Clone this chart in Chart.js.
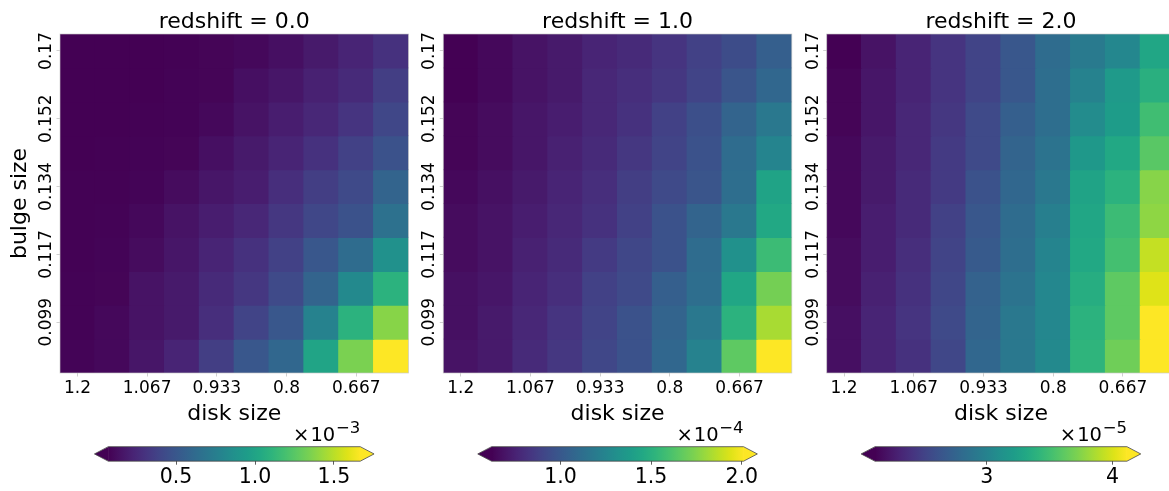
<!DOCTYPE html>
<html>
<head>
<meta charset="utf-8">
<script src="https://cdn.jsdelivr.net/npm/chart.js@4.4.0/dist/chart.umd.min.js"></script>
<style>
  html, body { margin: 0; padding: 0; background: #fff; width: 1169px; height: 491px; overflow: hidden; position: relative; }
  canvas { position: absolute; }
</style>
</head>
<body>
<canvas id="map0"></canvas>
<canvas id="map1"></canvas>
<canvas id="map2"></canvas>
<canvas id="bar0"></canvas>
<canvas id="bar1"></canvas>
<canvas id="bar2"></canvas>
<script>
// ---- data -------------------------------------------------------------
// disk sizes along x (columns), bulge sizes along y (rows, top to bottom)
const diskSizes = ['1.2', '1.133', '1.067', '1.0', '0.933', '0.867', '0.8', '0.733', '0.667', '0.6'];
const bulgeSizes = ['0.17', '0.161', '0.152', '0.143', '0.134', '0.126', '0.117', '0.108', '0.099', '0.09'];
const redshifts = ['0.0', '1.0', '2.0'];

// redshift 0.0, in units of 1e-3 (rows = bulge size, top to bottom)
const ratioZ0 = [
  [0.070, 0.070, 0.071, 0.075, 0.086, 0.102, 0.134, 0.182, 0.230, 0.294],
  [0.070, 0.071, 0.072, 0.078, 0.086, 0.134, 0.166, 0.214, 0.262, 0.357],
  [0.071, 0.072, 0.075, 0.080, 0.102, 0.150, 0.198, 0.246, 0.310, 0.405],
  [0.071, 0.073, 0.078, 0.086, 0.134, 0.182, 0.230, 0.294, 0.373, 0.469],
  [0.073, 0.076, 0.083, 0.118, 0.166, 0.198, 0.278, 0.357, 0.421, 0.581],
  [0.075, 0.080, 0.102, 0.150, 0.198, 0.246, 0.326, 0.405, 0.469, 0.661],
  [0.076, 0.083, 0.118, 0.166, 0.230, 0.294, 0.373, 0.501, 0.629, 0.869],
  [0.078, 0.086, 0.150, 0.182, 0.262, 0.326, 0.421, 0.581, 0.821, 1.092],
  [0.080, 0.102, 0.150, 0.182, 0.278, 0.389, 0.501, 0.773, 1.092, 1.380],
  [0.083, 0.102, 0.166, 0.230, 0.357, 0.501, 0.597, 1.000, 1.348, 1.667]
];

// redshift 1.0, in units of 1e-4
const ratioZ1 = [
  [0.620, 0.648, 0.690, 0.717, 0.759, 0.787, 0.829, 0.884, 0.940, 1.037],
  [0.620, 0.648, 0.690, 0.717, 0.773, 0.801, 0.842, 0.898, 0.981, 1.079],
  [0.634, 0.662, 0.703, 0.731, 0.773, 0.815, 0.884, 0.954, 1.065, 1.176],
  [0.634, 0.662, 0.703, 0.745, 0.787, 0.842, 0.898, 0.968, 1.107, 1.246],
  [0.648, 0.676, 0.717, 0.759, 0.801, 0.870, 0.926, 0.981, 1.120, 1.426],
  [0.662, 0.690, 0.731, 0.773, 0.815, 0.884, 0.968, 1.065, 1.176, 1.454],
  [0.662, 0.690, 0.745, 0.787, 0.856, 0.912, 0.968, 1.107, 1.315, 1.565],
  [0.676, 0.703, 0.759, 0.801, 0.884, 0.926, 1.037, 1.120, 1.440, 1.718],
  [0.676, 0.717, 0.773, 0.829, 0.898, 0.968, 1.065, 1.176, 1.510, 1.829],
  [0.690, 0.717, 0.787, 0.842, 0.912, 0.968, 1.079, 1.232, 1.663, 2.010]
];

// redshift 2.0, in units of 1e-5
const ratioZ2 = [
  [2.110, 2.210, 2.311, 2.411, 2.511, 2.651, 2.812, 2.932, 3.032, 3.293],
  [2.130, 2.230, 2.311, 2.411, 2.511, 2.651, 2.832, 2.992, 3.193, 3.373],
  [2.130, 2.230, 2.331, 2.431, 2.551, 2.712, 2.832, 3.072, 3.213, 3.493],
  [2.150, 2.250, 2.331, 2.451, 2.551, 2.752, 2.872, 3.173, 3.313, 3.594],
  [2.150, 2.250, 2.351, 2.451, 2.611, 2.772, 2.912, 3.273, 3.393, 3.754],
  [2.150, 2.270, 2.351, 2.491, 2.651, 2.812, 2.972, 3.293, 3.473, 3.774],
  [2.170, 2.270, 2.371, 2.511, 2.671, 2.832, 3.012, 3.313, 3.514, 3.935],
  [2.170, 2.290, 2.391, 2.531, 2.732, 2.872, 3.032, 3.353, 3.614, 4.015],
  [2.190, 2.311, 2.411, 2.551, 2.752, 2.912, 3.032, 3.393, 3.614, 4.115],
  [2.190, 2.311, 2.391, 2.531, 2.772, 2.912, 3.052, 3.413, 3.674, 4.115]
];

// colour limits of each panel (same units as the grids above)
const colorRangeZ0 = [0.07, 1.667];
const colorRangeZ1 = [0.62, 2.01];
const colorRangeZ2 = [2.11, 4.115];

// colourbar ticks and their labels
const cbTicksZ0 = [0.5, 1.0, 1.5];
const cbTicksZ1 = [1.0, 1.5, 2.0];
const cbTicksZ2 = [3, 4];
const cbTickLabelsZ0 = ['0.5', '1.0', '1.5'];
const cbTickLabelsZ1 = ['1.0', '1.5', '2.0'];
const cbTickLabelsZ2 = ['3', '4'];
const cbExponents = ['\u22123', '\u22124', '\u22125'];

const grids = [ratioZ0, ratioZ1, ratioZ2];
const ranges = [colorRangeZ0, colorRangeZ1, colorRangeZ2];
const cbTicks = [cbTicksZ0, cbTicksZ1, cbTicksZ2];
const cbTickLabels = [cbTickLabelsZ0, cbTickLabelsZ1, cbTickLabelsZ2];

// ---- viridis colour map ------------------------------------------------
const VIRIDIS = ['#440154', '#471365', '#482475', '#463480', '#414487', '#3b528b', '#355f8d',
  '#2f6c8e', '#2a788e', '#25848e', '#21918c', '#1e9c89', '#22a884', '#2fb47c', '#44bf70',
  '#5ec962', '#7ad151', '#9bd93c', '#bddf26', '#dfe318', '#fde725'];
function hexRgb(h) { return [1, 3, 5].map(i => parseInt(h.slice(i, i + 2), 16)); }
const VIRIDIS_RGB = VIRIDIS.map(hexRgb);
function viridis(t) {
  t = Math.min(1, Math.max(0, t));
  const f = t * (VIRIDIS_RGB.length - 1);
  const i = Math.min(Math.floor(f), VIRIDIS_RGB.length - 2);
  const u = f - i;
  const a = VIRIDIS_RGB[i], b = VIRIDIS_RGB[i + 1];
  const c = a.map((v, k) => Math.round(v + (b[k] - v) * u));
  return `rgb(${c[0]},${c[1]},${c[2]})`;
}

// ---- layout ------------------------------------------------------------
const FONT = 'DejaVu Sans';
Chart.defaults.font.family = FONT;
Chart.defaults.color = '#000';
Chart.defaults.animation = false;
Chart.defaults.events = [];

const AREA_TOP = 34, AREA_H = 339, AREA_W = 348.5;
const AREA_LEFT = [60, 443.3, 826.7];
const MAP_H = 427;
const CB_TOP = 446.7, CB_H = 14.5, CB_W = 252, CB_CANVAS_TOP = 410, CB_CANVAS_H = 81;
const CB_EXT = 13.8;

function place(canvas, left, top, w, h) {
  canvas.width = w; canvas.height = h;
  canvas.style.left = left + 'px'; canvas.style.top = top + 'px';
  canvas.style.width = w + 'px'; canvas.style.height = h + 'px';
}

const panelTitle = {
  id: 'panelTitle',
  afterDraw(chart, args, opts) {
    const { ctx, chartArea } = chart;
    ctx.save();
    ctx.font = `22px "${FONT}"`;
    ctx.fillStyle = '#000';
    ctx.textAlign = 'center';
    ctx.textBaseline = 'alphabetic';
    ctx.fillText(opts.text, (chartArea.left + chartArea.right) / 2, 28.3);
    // light frame round the image
    ctx.strokeStyle = 'rgba(200,200,200,0.8)';
    ctx.lineWidth = 0.8;
    ctx.strokeRect(chartArea.left, chartArea.top, chartArea.right - chartArea.left, chartArea.bottom - chartArea.top);
    ctx.restore();
  }
};

const ROWS = bulgeSizes.length;
const tickGrid = { display: true, offset: false, drawOnChartArea: false, drawTicks: true, tickLength: 3.5, color: '#c4c4c4', lineWidth: 0.8 };

grids.forEach((grid, p) => {
  const range = ranges[p];
  const canvas = document.getElementById('map' + p);
  const cLeft = Math.floor(AREA_LEFT[p] - 60);
  const yW = AREA_LEFT[p] - cLeft;
  const cW = Math.ceil(yW + AREA_W + 12);
  place(canvas, cLeft, 0, cW, MAP_H);

  const datasets = grid.map((row, r) => ({
    data: row.map(() => [ROWS - 1 - r, ROWS - r]),
    backgroundColor: row.map(v => viridis((v - range[0]) / (range[1] - range[0]))),
    borderWidth: 0,
    inflateAmount: 0.6,
    barPercentage: 1,
    categoryPercentage: 1,
    grouped: false
  }));

  new Chart(canvas, {
    type: 'bar',
    data: { labels: diskSizes, datasets },
    plugins: [panelTitle],
    options: {
      responsive: false,
      layout: { padding: { top: AREA_TOP, bottom: 0, left: 0, right: cW - yW - AREA_W } },
      plugins: {
        legend: { display: false },
        tooltip: { enabled: false },
        panelTitle: { text: 'redshift = ' + redshifts[p] }
      },
      scales: {
        x: {
          type: 'category',
          offset: true,
          grid: tickGrid,
          border: { display: false },
          ticks: { font: { size: 17 }, padding: 2.3, maxRotation: 0, autoSkip: false, color: '#000' },
          afterBuildTicks: s => { s.ticks = s.ticks.filter((t, i) => i % 2 === 0); },
          afterFit: s => { s.height = MAP_H - (AREA_TOP + AREA_H); },
          title: { display: true, text: 'disk size', font: { size: 22 }, padding: 0, color: '#000' }
        },
        y: {
          type: 'linear',
          min: 0, max: ROWS,
          stacked: false,
          bounds: 'data',
          grid: tickGrid,
          border: { display: false },
          ticks: {
            font: { size: 17 }, color: '#000',
            minRotation: 90, maxRotation: 90,
            crossAlign: 'center', padding: -14.5,
            callback: (v) => bulgeSizes[ROWS - 1 - Math.floor(v)]
          },
          afterBuildTicks: s => {
            s.ticks = bulgeSizes.map((b, r) => ({ value: ROWS - r - 0.5 })).filter((t, r) => r % 2 === 0);
          },
          afterFit: s => { s.width = yW; },
          title: { display: p === 0, text: 'bulge size', font: { size: 22 }, padding: { top: 7, bottom: 0 }, color: '#000' }
        }
      }
    }
  });
});

// ---- colourbars ---------------------------------------------------------
const colorbarDecor = {
  id: 'colorbarDecor',
  afterDatasetsDraw(chart, args, opts) {
    const { ctx, chartArea, scales } = chart;
    const x0 = scales.x.getPixelForValue(opts.range[0]);
    const x1 = scales.x.getPixelForValue(opts.range[1]);
    const top = chartArea.top, bot = chartArea.bottom, mid = (top + bot) / 2;
    ctx.save();
    ctx.fillStyle = viridis(0);
    ctx.beginPath(); ctx.moveTo(x0 + 0.5, top); ctx.lineTo(x0 - CB_EXT, mid); ctx.lineTo(x0 + 0.5, bot); ctx.closePath(); ctx.fill();
    ctx.fillStyle = viridis(1);
    ctx.beginPath(); ctx.moveTo(x1 - 0.5, top); ctx.lineTo(x1 + CB_EXT, mid); ctx.lineTo(x1 - 0.5, bot); ctx.closePath(); ctx.fill();
    ctx.strokeStyle = '#444';
    ctx.lineWidth = 0.8;
    ctx.beginPath();
    ctx.moveTo(x0 - CB_EXT, mid); ctx.lineTo(x0, top); ctx.lineTo(x1, top); ctx.lineTo(x1 + CB_EXT, mid);
    ctx.lineTo(x1, bot); ctx.lineTo(x0, bot); ctx.closePath(); ctx.stroke();

    // offset text, e.g. ×10^−3
    ctx.fillStyle = '#000';
    ctx.textBaseline = 'alphabetic';
    ctx.textAlign = 'right';
    ctx.font = `16.5px "${FONT}"`;
    ctx.fillText(opts.exponent, x1, 433.3 - CB_CANVAS_TOP);
    ctx.font = `19.5px "${FONT}"`;
    const xTen = x1 - 25;
    ctx.fillText('10', xTen, 440.7 - CB_CANVAS_TOP);
    const w10 = ctx.measureText('10').width;
    ctx.fillText('\u00d7', xTen - w10 - 1, 440.7 - CB_CANVAS_TOP);
    ctx.restore();
  }
};

ranges.forEach((range, p) => {
  const canvas = document.getElementById('bar' + p);
  const center = AREA_LEFT[p] + AREA_W / 2;
  const bodyLeft = center - CB_W / 2;
  const cLeft = Math.floor(bodyLeft - 30);
  const padL = bodyLeft - cLeft;
  const cW = Math.ceil(padL + CB_W + 30);
  place(canvas, cLeft, CB_CANVAS_TOP, cW, CB_CANVAS_H);
  const ticks = cbTicks[p], labels = cbTickLabels[p];

  new Chart(canvas, {
    type: 'bar',
    data: {
      labels: [''],
      datasets: [{
        data: [range],
        borderWidth: 0,
        barPercentage: 1,
        categoryPercentage: 1,
        backgroundColor: (c) => {
          const ch = c.chart;
          if (!ch.chartArea) return viridis(0.5);
          const xs = ch.scales.x;
          const g = ch.ctx.createLinearGradient(xs.getPixelForValue(range[0]), 0, xs.getPixelForValue(range[1]), 0);
          VIRIDIS.forEach((col, i) => g.addColorStop(i / (VIRIDIS.length - 1), col));
          return g;
        }
      }]
    },
    plugins: [colorbarDecor],
    options: {
      responsive: false,
      indexAxis: 'y',
      layout: { padding: { top: CB_TOP - CB_CANVAS_TOP, bottom: 0, left: padL, right: cW - padL - CB_W } },
      plugins: {
        legend: { display: false },
        tooltip: { enabled: false },
        colorbarDecor: { range, exponent: cbExponents[p] }
      },
      scales: {
        x: {
          type: 'linear',
          min: range[0], max: range[1],
          bounds: 'data',
          grid: { display: true, drawOnChartArea: false, drawTicks: true, tickLength: 3.5, color: '#333', lineWidth: 0.8 },
          border: { display: false },
          ticks: {
            font: { size: 20.5 }, color: '#000', padding: 0.4, maxRotation: 0,
            callback: (v, i) => labels[i]
          },
          afterBuildTicks: s => { s.ticks = ticks.map(v => ({ value: v })); },
          afterFit: s => { s.height = CB_CANVAS_H - (CB_TOP - CB_CANVAS_TOP) - CB_H; }
        },
        y: { type: 'category', display: false, offset: true }
      }
    }
  });
});
</script>
</body>
</html>
